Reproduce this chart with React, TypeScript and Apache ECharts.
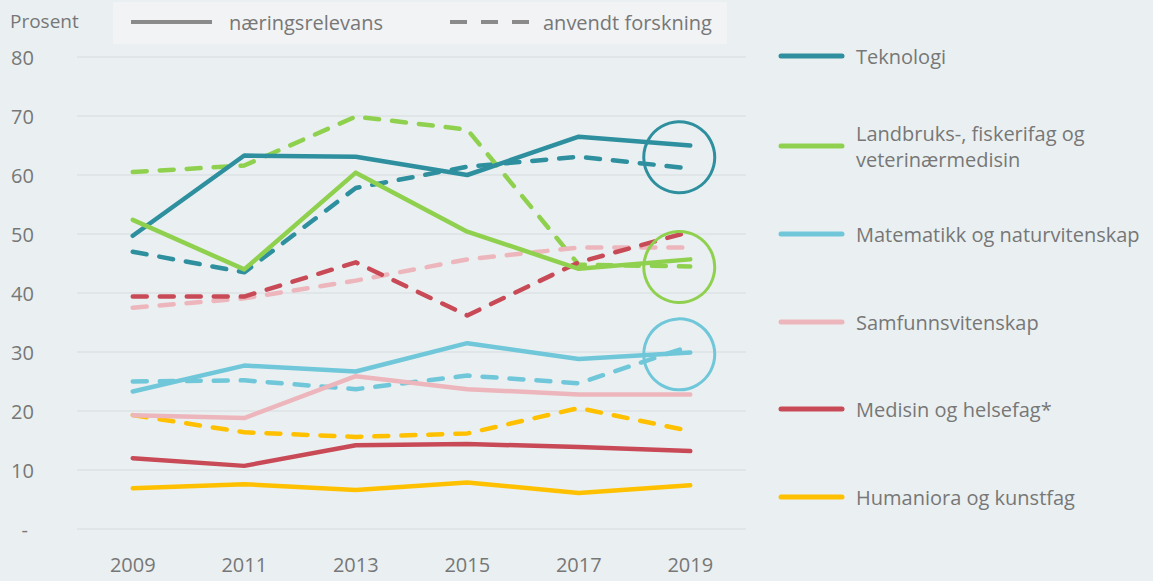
import React, { useEffect, useRef } from "react";
import * as echarts from "echarts";

const years = ["2009", "2011", "2013", "2015", "2017", "2019"];
const yTicks = [0, 10, 20, 30, 40, 50, 60, 70, 80];

const fieldNames = [
  "Teknologi",
  "Landbruks-, fiskerifag og\nveterinærmedisin",
  "Matematikk og naturvitenskap",
  "Samfunnsvitenskap",
  "Medisin og helsefag*",
  "Humaniora og kunstfag",
];
const fieldColors = ["#2e8f9f", "#8fd14f", "#6fc7d9", "#ecb6bc", "#c94a57", "#ffc000"];

// næringsrelevans (solid)
const teknologiRel = [49.7, 63.3, 63.1, 60.0, 66.5, 65.0];
const landbrukRel = [52.4, 44.0, 60.4, 50.4, 44.1, 45.7];
const matematikkRel = [23.3, 27.7, 26.7, 31.5, 28.8, 29.9];
const samfunnRel = [19.3, 18.8, 25.9, 23.7, 22.8, 22.8];
const medisinRel = [12.0, 10.7, 14.2, 14.4, 13.9, 13.2];
const humanioraRel = [6.9, 7.6, 6.6, 7.9, 6.1, 7.4];

// anvendt forskning (dashed)
const teknologiAnv = [47.0, 43.5, 57.8, 61.4, 63.1, 61.1];
const landbrukAnv = [60.5, 61.6, 69.9, 67.7, 44.8, 44.5];
const matematikkAnv = [25.0, 25.2, 23.7, 26.0, 24.7, 31.0];
const samfunnAnv = [37.5, 39.1, 42.1, 45.7, 47.7, 47.7];
const medisinAnv = [39.4, 39.4, 45.2, 36.2, 45.2, 50.4];
const humanioraAnv = [19.3, 16.4, 15.6, 16.2, 20.5, 16.6];

const relSeries = [teknologiRel, landbrukRel, matematikkRel, samfunnRel, medisinRel, humanioraRel];
const anvSeries = [teknologiAnv, landbrukAnv, matematikkAnv, samfunnAnv, medisinAnv, humanioraAnv];

// highlighted 2019 circles: [field index, centre value]
const circleMarks: [number, number][] = [
  [0, 63.0],
  [1, 44.4],
  [2, 29.6],
];

const legendTop = ["næringsrelevans", "anvendt forskning"];

const FONT = "'Open Sans', 'Noto Sans', sans-serif";
const GRAY = "#777777";

export default function App() {
  const ref = useRef<HTMLDivElement>(null);
  useEffect(() => {
    if (!ref.current) return;
    const chart = echarts.init(ref.current, null, { renderer: "svg" });

    const series: any[] = [];
    anvSeries.forEach((d, i) => {
      series.push({
        name: fieldNames[i].replace("\n", " ") + " (anvendt)",
        type: "line",
        data: d,
        symbol: "none",
        z: 2,
        lineStyle: { color: fieldColors[i], width: 4.5, type: [14, 13], cap: "round", join: "round" },
      });
    });
    relSeries.forEach((d, i) => {
      const mk = circleMarks.find((c) => c[0] === i);
      series.push({
        name: fieldNames[i].replace("\n", " "),
        type: "line",
        data: d,
        symbol: "none",
        z: 3,
        lineStyle: { color: fieldColors[i], width: 4.5, cap: "round", join: "round" },
        markPoint: mk
          ? {
              silent: true,
              symbol: "circle",
              symbolSize: 71,
              symbolOffset: [-11, 0],
              label: { show: false },
              itemStyle: { color: "rgba(0,0,0,0)", borderColor: fieldColors[i], borderWidth: 3 },
              data: [{ coord: [years[5], mk[1]] }],
            }
          : undefined,
      });
    });

    const legendY = [56, 146, 234, 322, 409, 497];
    const rightLegend: any[] = [];
    fieldNames.forEach((n, i) => {
      const parts = n.split("\n");
      rightLegend.push({
        type: "line",
        shape: { x1: 781, y1: legendY[i], x2: 842, y2: legendY[i] },
        style: { stroke: fieldColors[i], lineWidth: 5, lineCap: "round" },
      });
      parts.forEach((p, k) => {
        const y = legendY[i] + (k - (parts.length - 1) / 2) * 26;
        rightLegend.push({
          type: "text",
          x: 856,
          y,
          style: {
            text: p,
            fill: GRAY,
            font: `20px ${FONT}`,
            lineHeight: 22,
            textVerticalAlign: "middle",
          },
        });
      });
    });

    chart.setOption({
      animation: false,
      backgroundColor: "#eaf0f1",
      grid: { left: 77, right: 407, top: 57, bottom: 52 },
      xAxis: {
        type: "category",
        data: years,
        boundaryGap: true,
        axisLine: { show: false },
        axisTick: { show: false },
        axisLabel: { color: GRAY, fontSize: 20, fontFamily: FONT, margin: 25 },
      },
      yAxis: {
        type: "value",
        min: yTicks[0],
        max: yTicks[yTicks.length - 1],
        interval: 10,
        axisLine: { show: false },
        axisTick: { show: false },
        splitLine: { lineStyle: { color: "#dde3e5", width: 1.5 } },
        axisLabel: {
          color: GRAY,
          fontSize: 20,
          fontFamily: FONT,
          margin: 66,
          align: "left",
          formatter: (v: number) => (v === 0 ? "  -" : String(v)),
        },
      },
      series,
      graphic: [
        {
          type: "text",
          x: 10,
          y: 21,
          style: { text: "Prosent", fill: GRAY, font: `19px ${FONT}`, textVerticalAlign: "middle" },
        },
        {
          type: "rect",
          shape: { x: 113, y: 2, width: 614, height: 42 },
          style: { fill: "#f1f3f4" },
        },
        {
          type: "line",
          shape: { x1: 131, y1: 22, x2: 212, y2: 22 },
          style: { stroke: "#8a8a8a", lineWidth: 4 },
        },
        {
          type: "text",
          x: 229,
          y: 22,
          style: { text: legendTop[0], fill: GRAY, font: `20px ${FONT}`, textVerticalAlign: "middle" },
        },
        {
          type: "line",
          shape: { x1: 450, y1: 22, x2: 529, y2: 22 },
          style: { stroke: "#8a8a8a", lineWidth: 4, lineDash: [17, 14] },
        },
        {
          type: "text",
          x: 543,
          y: 22,
          style: { text: legendTop[1], fill: GRAY, font: `20px ${FONT}`, textVerticalAlign: "middle" },
        },
        ...rightLegend,
      ],
    });
    return () => chart.dispose();
  }, []);
  return <div ref={ref} style={{ position: "absolute", left: 0, top: 0, width: 1153, height: 581 }} />;
}
